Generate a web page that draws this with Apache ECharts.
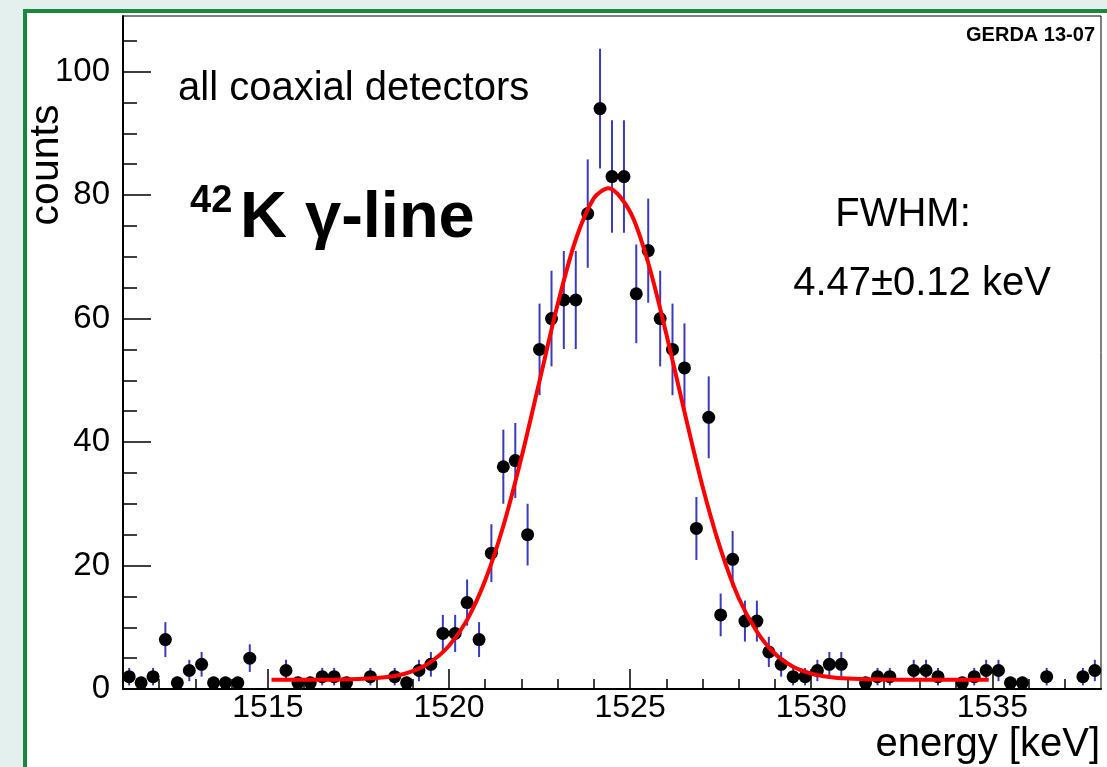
<!DOCTYPE html>
<html>
<head>
<meta charset="utf-8">
<script src="https://cdn.jsdelivr.net/npm/echarts@6/dist/echarts.min.js"></script>
<style>
  html, body { margin: 0; padding: 0; background: #e4f0ee; overflow: hidden; }
  #frame { position: absolute; left: 23px; top: 9px; width: 1200px; height: 900px; border: 4px solid #17883c; background: #ffffff; }
  #c { position: absolute; left: 0; top: 0; width: 1107px; height: 767px; }
</style>
</head>
<body>
<div id="frame"></div>
<div id="c"></div>
<script>
// ---- data ----
const energies = [1511.17, 1511.5, 1511.83, 1512.17, 1512.5, 1512.83, 1513.17, 1513.5, 1513.83, 1514.17, 1514.5,
  1515.5, 1515.83, 1516.17, 1516.5, 1516.83, 1517.17, 1517.83, 1518.5, 1518.83, 1519.17, 1519.5, 1519.83,
  1520.17, 1520.5, 1520.83, 1521.17, 1521.5, 1521.83, 1522.17, 1522.5, 1522.83, 1523.17, 1523.5, 1523.83,
  1524.17, 1524.5, 1524.83, 1525.17, 1525.5, 1525.83, 1526.17, 1526.5, 1526.83, 1527.17, 1527.5, 1527.83,
  1528.17, 1528.5, 1528.83, 1529.17, 1529.5, 1529.83, 1530.17, 1530.5, 1530.83, 1531.5, 1531.83, 1532.17,
  1532.83, 1533.17, 1533.5, 1534.17, 1534.5, 1534.83, 1535.17, 1535.5, 1535.83, 1536.5, 1537.5, 1537.83];
const counts = [2, 1, 2, 8, 1, 3, 4, 1, 1, 1, 5,
  3, 1, 1, 2, 2, 1, 2, 2, 1, 3, 4, 9,
  9, 14, 8, 22, 36, 37, 25, 55, 60, 63, 63, 77,
  94, 83, 83, 64, 71, 60, 55, 52, 26, 44, 12, 21,
  11, 11, 6, 4, 2, 2, 3, 4, 4, 1, 2, 2,
  3, 3, 2, 1, 2, 3, 3, 1, 1, 2, 2, 3];

const fitEnergies = [1515.1, 1516, 1517, 1518, 1518.5, 1519, 1519.5, 1520, 1520.5, 1521, 1521.5, 1522, 1522.5,
  1523, 1523.5, 1524, 1524.4, 1525, 1525.5, 1526, 1526.5, 1527, 1527.5, 1528, 1528.5, 1529, 1529.5, 1530,
  1530.5, 1531, 1532, 1533, 1534, 1534.9];
const fitCounts = [1.5, 1.5, 1.55, 1.8, 2.1, 2.9, 4.4, 7.0, 11.2, 17.6, 26.4, 37.5, 49.9,
  62.3, 72.8, 79.5, 81.1, 77.3, 69.0, 57.5, 44.9, 32.8, 22.6, 14.7, 9.3, 5.7, 3.6, 2.5,
  1.95, 1.7, 1.52, 1.5, 1.5, 1.5];

const xMajorTicks = [1515, 1520, 1525, 1530, 1535];
const xMinorTicks = [1512, 1513, 1514, 1516, 1517, 1518, 1519, 1521, 1522, 1523, 1524, 1526, 1527, 1528, 1529,
  1531, 1532, 1533, 1534, 1536, 1537];
const yMajorTicks = [0, 20, 40, 60, 80, 100];
const yMinorTicks = [5, 10, 15, 25, 30, 35, 45, 50, 55, 65, 70, 75, 85, 90, 95, 105];

const FONT = '"Liberation Sans", Arial, Helvetica, sans-serif';

const chart = echarts.init(document.getElementById('c'), null, { renderer: 'canvas' });

const xBase = { type: 'value', min: 1511, max: 1538, position: 'bottom', splitLine: { show: false } };
const yBase = { type: 'value', min: 0, max: 109, position: 'left', splitLine: { show: false } };

chart.setOption({
  animation: false,
  backgroundColor: 'transparent',
  grid: { left: 123, top: 16, width: 978, height: 673, show: true, borderColor: '#000', borderWidth: 1, backgroundColor: '#fff' },
  xAxis: [
    Object.assign({}, xBase, {
      axisLine: { show: true, lineStyle: { color: '#000', width: 2 } },
      axisTick: { show: true, inside: true, length: 20, customValues: xMajorTicks, lineStyle: { color: '#000', width: 1.5 } },
      axisLabel: { show: true, customValues: xMajorTicks, margin: 3, fontSize: 32, color: '#000', fontFamily: FONT,
        formatter: function (v) { return String(v); } }
    }),
    Object.assign({}, xBase, {
      axisLine: { show: false },
      axisTick: { show: true, inside: true, length: 10, customValues: xMinorTicks, lineStyle: { color: '#000', width: 1.5 } },
      axisLabel: { show: false }
    })
  ],
  yAxis: [
    Object.assign({}, yBase, {
      axisLine: { show: true, lineStyle: { color: '#000', width: 2 } },
      axisTick: { show: true, inside: true, length: 28, customValues: yMajorTicks, lineStyle: { color: '#000', width: 1.5 } },
      axisLabel: { show: true, customValues: yMajorTicks, margin: 13, fontSize: 33, color: '#000', fontFamily: FONT,
        formatter: function (v) { return String(v); } }
    }),
    Object.assign({}, yBase, {
      axisLine: { show: false },
      axisTick: { show: true, inside: true, length: 14, customValues: yMinorTicks, lineStyle: { color: '#000', width: 1.5 } },
      axisLabel: { show: false }
    })
  ],
  series: [
    {
      type: 'custom',
      xAxisIndex: 0, yAxisIndex: 0,
      z: 2,
      data: energies.map((e, i) => [e, counts[i]]),
      renderItem: function (params, api) {
        const x = api.value(0), n = api.value(1), err = Math.sqrt(n);
        const p1 = api.coord([x, n + err]);
        const p2 = api.coord([x, n - err]);
        return { type: 'line', shape: { x1: p1[0], y1: p1[1], x2: p2[0], y2: p2[1] },
          style: { stroke: '#3a3abf', lineWidth: 2 } };
      }
    },
    {
      type: 'scatter',
      xAxisIndex: 0, yAxisIndex: 0,
      z: 3,
      symbol: 'circle',
      symbolSize: 13,
      itemStyle: { color: '#000', opacity: 1 },
      data: energies.map((e, i) => [e, counts[i]])
    },
    {
      type: 'line',
      xAxisIndex: 0, yAxisIndex: 0,
      z: 4,
      showSymbol: false,
      smooth: 0.3,
      lineStyle: { color: '#ff0000', width: 4 },
      data: fitEnergies.map((e, i) => [e, fitCounts[i]])
    }
  ],
  graphic: [
    { type: 'text', x: 47, y: 165, rotation: Math.PI / 2, z: 100,
      style: { text: 'counts', fontSize: 41, fontFamily: FONT, fill: '#000', align: 'center', verticalAlign: 'middle' } },
    { type: 'text', x: 1100, y: 745, z: 100,
      style: { text: 'energy [keV]', fontSize: 40, fontFamily: FONT, fill: '#000', align: 'right', verticalAlign: 'middle' } },
    { type: 'text', x: 178, y: 89, z: 100,
      style: { text: 'all coaxial detectors', fontSize: 40, fontFamily: FONT, fill: '#000', align: 'left', verticalAlign: 'middle' } },
    { type: 'text', x: 1095, y: 35, z: 100,
      style: { text: 'GERDA 13-07', fontSize: 20, fontWeight: 'bold', fontFamily: FONT, fill: '#000', align: 'right', verticalAlign: 'middle' } },
    { type: 'text', x: 190, y: 202, z: 100,
      style: { text: '42', fontSize: 38, fontWeight: 'bold', fontFamily: FONT, fill: '#000', align: 'left', verticalAlign: 'middle' } },
    { type: 'text', x: 240, y: 219, z: 100,
      style: { text: 'K γ-line', fontSize: 65, fontWeight: 'bold', fontFamily: FONT, fill: '#000', align: 'left', verticalAlign: 'middle' } },
    { type: 'text', x: 903, y: 215, z: 100,
      style: { text: 'FWHM:', fontSize: 40, fontFamily: FONT, fill: '#000', align: 'center', verticalAlign: 'middle' } },
    { type: 'text', x: 922, y: 284, z: 100,
      style: { text: '4.47±0.12 keV', fontSize: 40, fontFamily: FONT, fill: '#000', align: 'center', verticalAlign: 'middle' } }
  ]
});
</script>
</body>
</html>
